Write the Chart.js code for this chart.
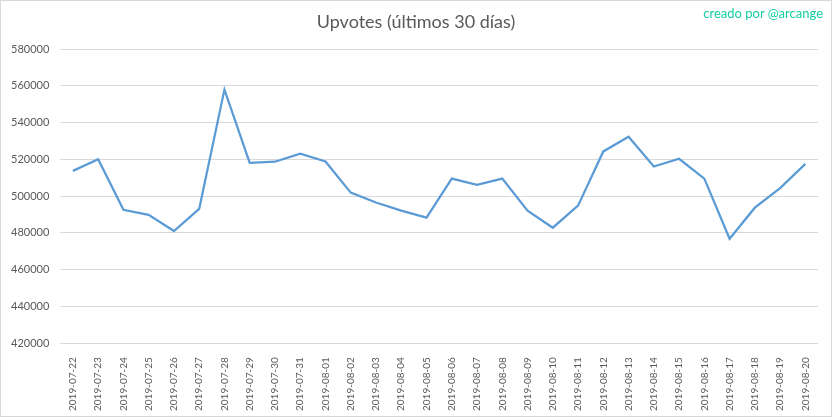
<!DOCTYPE html>
<html>
<head>
<meta charset="utf-8">
<script src="https://cdn.jsdelivr.net/npm/chart.js@4/dist/chart.umd.min.js"></script>
<style>
  html, body { margin: 0; padding: 0; background: #fff; }
  #wrap { position: relative; width: 832px; height: 417px; }
  #frame { position: absolute; left: 0; top: 0; width: 832px; height: 417px; box-sizing: border-box; border: 1px solid #d9d9d9; pointer-events: none; }
  #title { position: absolute; left: 0; top: 10px; width: 832px; text-align: center; font-family: Lato, sans-serif; font-size: 18px; color: #595959; }
  #credit { position: absolute; right: 9px; top: 5px; font-family: Lato, sans-serif; font-size: 13px; color: #14cfa2; }
</style>
</head>
<body>
<div id="wrap">
  <canvas id="chart" width="832" height="417"></canvas>
  <div id="title">Upvotes (últimos 30 días)</div>
  <div id="credit">creado por @arcange</div>
  <div id="frame"></div>
</div>
<script>
// data
const days = [
  "2019-07-22", "2019-07-23", "2019-07-24", "2019-07-25", "2019-07-26",
  "2019-07-27", "2019-07-28", "2019-07-29", "2019-07-30", "2019-07-31",
  "2019-08-01", "2019-08-02", "2019-08-03", "2019-08-04", "2019-08-05",
  "2019-08-06", "2019-08-07", "2019-08-08", "2019-08-09", "2019-08-10",
  "2019-08-11", "2019-08-12", "2019-08-13", "2019-08-14", "2019-08-15",
  "2019-08-16", "2019-08-17", "2019-08-18", "2019-08-19", "2019-08-20"
];
const upvotes = [
  513700, 520000, 492500, 489800, 481000,
  493000, 557900, 518100, 518700, 523000,
  518800, 501900, 496500, 492100, 488300,
  509500, 506100, 509500, 492100, 482800,
  494800, 524300, 532300, 516100, 520300,
  509500, 476800, 493700, 504300, 517500
];
const yMin = 420000;
const yMax = 580000;
const yStep = 20000;

const grey = "#595959";

new Chart(document.getElementById("chart"), {
  type: "line",
  data: {
    labels: days,
    datasets: [{
      label: "Upvotes",
      data: upvotes,
      borderColor: "#5b9bd5",
      borderWidth: 2.25,
      pointRadius: 0,
      tension: 0,
      fill: false
    }]
  },
  options: {
    responsive: false,
    animation: false,
    layout: { padding: { left: 0, right: 14, top: 49, bottom: 0 } },
    plugins: {
      legend: { display: false },
      tooltip: { enabled: false },
      title: { display: false }
    },
    scales: {
      x: {
        offset: true,
        grid: { display: false },
        border: { display: false },
        ticks: {
          color: grey,
          font: { family: "Lato", size: 10 },
          minRotation: 90,
          maxRotation: 90,
          autoSkip: false,
          padding: 6
        }
      },
      y: {
        min: yMin,
        max: yMax,
        grid: { color: "#d9d9d9", lineWidth: 1, drawTicks: false },
        border: { display: false },
        ticks: {
          stepSize: yStep,
          color: grey,
          font: { family: "Lato", size: 11 },
          padding: 11,
          callback: v => String(v)
        }
      }
    }
  }
});
</script>
</body>
</html>
